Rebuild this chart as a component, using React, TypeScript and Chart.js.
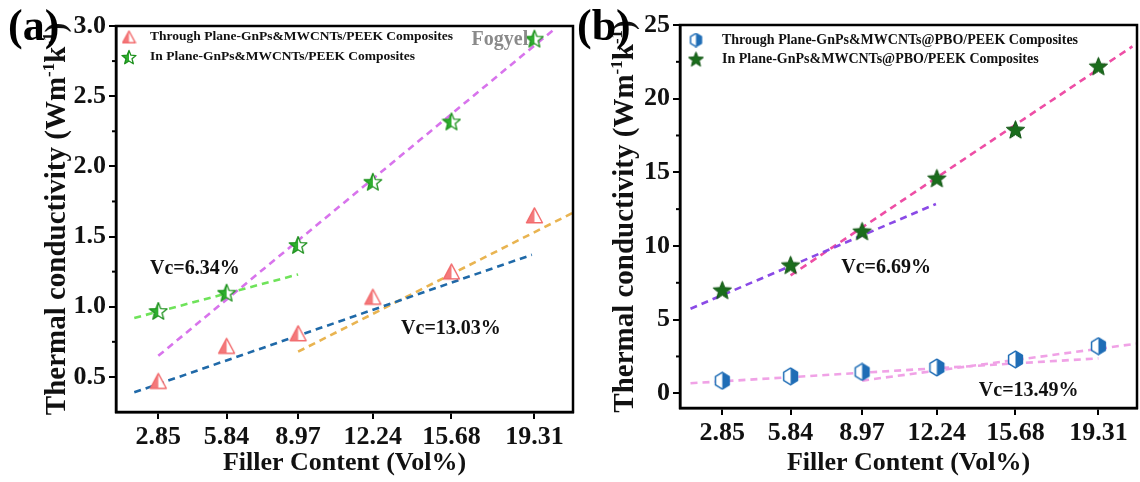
import React, { useEffect, useRef } from 'react';
import { Chart, registerables } from 'chart.js';
Chart.register(...registerables);

// ---------- shared data ----------
const fillerContent = [2.85, 5.84, 8.97, 12.24, 15.68, 19.31];
const xTickLabels = ['2.85', '5.84', '8.97', '12.24', '15.68', '19.31'];

// ---------- panel (a) data ----------
const throughPlaneA = [0.47, 0.72, 0.81, 1.07, 1.25, 1.65];
const inPlaneA = [0.97, 1.1, 1.44, 1.89, 2.32, 2.91];
const yTicksA = [0.5, 1.0, 1.5, 2.0, 2.5, 3.0];
const yMinorA = [0.75, 1.25, 1.75, 2.25, 2.75];
const fitInPlaneLowA = [[1.8, 0.92], [8.97, 1.23]];
const fitInPlaneHighA = [[2.85, 0.65], [20.2, 2.98]];
const fitThroughLowA = [[1.8, 0.39], [19.2, 1.37]];
const fitThroughHighA = [[8.97, 0.68], [21, 1.67]];

// ---------- panel (b) data ----------
const throughPlaneB = [0.85, 1.15, 1.45, 1.75, 2.3, 3.2];
const inPlaneB = [7.0, 8.7, 11.0, 14.6, 17.9, 22.2];
const yTicksB = [0, 5, 10, 15, 20, 25];
const yMinorB = [2.5, 7.5, 12.5, 17.5, 22.5];
const fitInPlaneLowB = [[1.46, 5.74], [12.2, 12.85]];
const fitInPlaneHighB = [[5.84, 8.0], [20.8, 23.55]];
const fitThroughLowB = [[1.46, 0.68], [19.31, 2.37]];
const fitThroughHighB = [[8.97, 0.86], [21, 3.37]];

const FONT = "'Liberation Serif', 'Times New Roman', serif";

// ---------- marker images ----------
function markerCanvas(size: number, draw: (ctx: CanvasRenderingContext2D, s: number) => void) {
  const c = document.createElement('canvas');
  c.width = size;
  c.height = size;
  const ctx = c.getContext('2d') as CanvasRenderingContext2D;
  draw(ctx, size);
  return c;
}
function starPath(ctx: CanvasRenderingContext2D, cx: number, cy: number, R: number, r: number) {
  ctx.beginPath();
  for (let i = 0; i < 10; i++) {
    const rad = i % 2 === 0 ? R : r;
    const a = -Math.PI / 2 + (i * Math.PI) / 5;
    const px = cx + rad * Math.cos(a);
    const py = cy + rad * Math.sin(a);
    if (i === 0) ctx.moveTo(px, py);
    else ctx.lineTo(px, py);
  }
  ctx.closePath();
}
function halfFilled(
  ctx: CanvasRenderingContext2D,
  s: number,
  path: () => void,
  fill: string,
  stroke: string,
  leftHalf: boolean,
  lw: number
) {
  path();
  ctx.fillStyle = '#fff';
  ctx.fill();
  ctx.save();
  path();
  ctx.clip();
  ctx.fillStyle = fill;
  if (leftHalf) ctx.fillRect(0, 0, s / 2, s);
  else ctx.fillRect(s / 2, 0, s / 2, s);
  ctx.restore();
  path();
  ctx.strokeStyle = stroke;
  ctx.lineWidth = lw;
  ctx.lineJoin = 'round';
  ctx.stroke();
}
function makeTriangle(size: number) {
  return markerCanvas(size, (ctx, s) => {
    const path = () => {
      ctx.beginPath();
      ctx.moveTo(s / 2, s * 0.1);
      ctx.lineTo(s * 0.08, s * 0.88);
      ctx.lineTo(s * 0.92, s * 0.88);
      ctx.closePath();
    };
    halfFilled(ctx, s, path, '#f4797b', '#f26a6c', true, 1.4);
  });
}
function makeStarA(size: number) {
  return markerCanvas(size, (ctx, s) => {
    const path = () => starPath(ctx, s / 2, s / 2 + 0.8, s * 0.46, s * 0.2);
    halfFilled(ctx, s, path, '#2fae2f', '#1d911d', true, 1.3);
  });
}
function makeStarB(size: number) {
  return markerCanvas(size, (ctx, s) => {
    starPath(ctx, s / 2, s / 2 + 0.8, s * 0.46, s * 0.2);
    ctx.fillStyle = '#1a6d1c';
    ctx.fill();
    ctx.strokeStyle = '#0f5311';
    ctx.lineWidth = 1;
    ctx.stroke();
  });
}
function makeHexagon(size: number) {
  return markerCanvas(size, (ctx, s) => {
    const path = () => {
      ctx.beginPath();
      for (let i = 0; i < 6; i++) {
        const a = -Math.PI / 2 + (i * Math.PI) / 3;
        const px = s / 2 + s * 0.42 * Math.cos(a);
        const py = s / 2 + s * 0.44 * Math.sin(a);
        if (i === 0) ctx.moveTo(px, py);
        else ctx.lineTo(px, py);
      }
      ctx.closePath();
    };
    halfFilled(ctx, s, path, '#1f6db6', '#1f6db6', false, 1.5);
  });
}

type Ann = { text: string; x: number; y: number; size: number; color: string };

interface PanelSpec {
  panelLabel: string;
  panelLabelX: number;
  yMin: number;
  yMax: number;
  yTicks: number[];
  yMinor: number[];
  yFmt: (v: number) => string;
  padTop: number;
  padRight: number;
  yWidth: number;
  xHeight: number;
  yTitleX: number;
  series: { label: string; values: number[]; marker: HTMLCanvasElement; legendMarker: HTMLCanvasElement }[];
  fits: { pts: number[][]; color: string }[];
  anns: Ann[];
  legendX: number;
  legendY: number[];
  legendTextX: number;
  legendSize: number;
}

// y-axis title with true superscripts
function drawYTitle(ctx: CanvasRenderingContext2D, cx: number, cy: number) {
  const main = `bold 29px ${FONT}`;
  const sup = `bold 17px ${FONT}`;
  const parts = [
    { t: 'Thermal conductivity (Wm', f: main, dy: 0 },
    { t: '-1', f: sup, dy: -11 },
    { t: 'k', f: main, dy: 0 },
    { t: '-1', f: sup, dy: -11 },
    { t: ')', f: main, dy: 0 },
  ];
  let total = 0;
  const widths = parts.map((p) => {
    ctx.font = p.f;
    const w = ctx.measureText(p.t).width;
    total += w;
    return w;
  });
  ctx.save();
  ctx.translate(cx, cy);
  ctx.rotate(-Math.PI / 2);
  ctx.fillStyle = '#111';
  ctx.textAlign = 'left';
  ctx.textBaseline = 'alphabetic';
  let x = -total / 2;
  parts.forEach((p, i) => {
    ctx.font = p.f;
    ctx.fillText(p.t, x, 10 + p.dy);
    x += widths[i];
  });
  ctx.restore();
}

function buildConfig(spec: PanelSpec): any {
  const tickFont = { family: FONT, size: 26, weight: 'bold' as const };
  const titleFont = { family: FONT, size: 26, weight: 'bold' as const };
  const grid = {
    drawOnChartArea: false,
    drawTicks: true,
    tickLength: 7,
    color: '#000',
    lineWidth: 2,
  };
  const border = { display: true, color: '#000', width: 2.5 };

  const deco = {
    id: 'deco',
    afterDraw(chart: any) {
      const { ctx, chartArea: ca, scales } = chart;
      ctx.save();
      // frame
      ctx.strokeStyle = '#000';
      ctx.lineWidth = 2.5;
      ctx.strokeRect(ca.left, ca.top, ca.right - ca.left, ca.bottom - ca.top);
      // minor ticks
      ctx.lineWidth = 2;
      spec.yMinor.forEach((v) => {
        const py = scales.y.getPixelForValue(v);
        ctx.beginPath();
        ctx.moveTo(ca.left - 4, py);
        ctx.lineTo(ca.left, py);
        ctx.stroke();
      });
      // legend
      spec.series.forEach((s, i) => {
        const m = s.legendMarker;
        const ly = spec.legendY[i];
        ctx.drawImage(m, spec.legendX - m.width / 2, ly - m.height / 2);
        ctx.fillStyle = '#111';
        ctx.font = `bold ${spec.legendSize}px ${FONT}`;
        ctx.textAlign = 'left';
        ctx.textBaseline = 'middle';
        ctx.fillText(s.label, spec.legendTextX, ly);
      });
      // annotations
      spec.anns.forEach((a) => {
        ctx.fillStyle = a.color;
        ctx.font = `bold ${a.size}px ${FONT}`;
        ctx.textAlign = 'center';
        ctx.textBaseline = 'middle';
        ctx.fillText(a.text, scales.x.getPixelForValue(a.x), scales.y.getPixelForValue(a.y));
      });
      // y title
      drawYTitle(ctx, spec.yTitleX, (ca.top + ca.bottom) / 2);
      // panel label
      ctx.fillStyle = '#000';
      ctx.font = `bold 44px ${FONT}`;
      ctx.textAlign = 'left';
      ctx.textBaseline = 'alphabetic';
      ctx.fillText(spec.panelLabel, spec.panelLabelX, 40);
      ctx.restore();
    },
  };

  return {
    type: 'scatter',
    data: {
      datasets: [
        ...spec.series.map((s) => ({
          label: s.label,
          data: fillerContent.map((x, i) => ({ x, y: s.values[i] })),
          pointStyle: s.marker,
          pointRadius: 9,
          pointHoverRadius: 9,
          showLine: false,
          order: 0,
        })),
        ...spec.fits.map((f) => ({
          label: '',
          data: f.pts.map(([x, y]) => ({ x, y })),
          showLine: true,
          borderColor: f.color,
          borderWidth: 2.6,
          borderDash: [7, 5],
          pointRadius: 0,
          fill: false,
          order: 1,
        })),
      ],
    },
    options: {
      responsive: false,
      animation: false,
      events: [],
      layout: {
        autoPadding: false,
        padding: { top: spec.padTop, right: spec.padRight, left: 0, bottom: 0 },
      },
      plugins: { legend: { display: false }, tooltip: { enabled: false } },
      scales: {
        x: {
          type: 'linear',
          min: 1,
          max: 21,
          afterBuildTicks: (s: any) => {
            s.ticks = fillerContent.map((v) => ({ value: v }));
          },
          afterFit: (s: any) => {
            s.height = spec.xHeight;
            s.paddingLeft = 0;
            s.paddingRight = 0;
          },
          ticks: {
            callback: (_v: any, i: number) => xTickLabels[i],
            font: tickFont,
            color: '#111',
            padding: 3,
            autoSkip: false,
            maxRotation: 0,
          },
          grid,
          border,
          title: {
            display: true,
            text: 'Filler Content (Vol%)',
            font: titleFont,
            color: '#111',
            padding: { top: 0, bottom: 3 },
          },
        },
        y: {
          type: 'linear',
          min: spec.yMin,
          max: spec.yMax,
          afterBuildTicks: (s: any) => {
            s.ticks = spec.yTicks.map((v) => ({ value: v }));
          },
          afterFit: (s: any) => {
            s.width = spec.yWidth;
            s.paddingTop = 0;
            s.paddingBottom = 0;
          },
          ticks: {
            callback: (v: any) => spec.yFmt(Number(v)),
            font: tickFont,
            color: '#111',
            padding: 3,
          },
          grid,
          border,
          title: { display: false },
        },
      },
    },
    plugins: [deco],
  };
}

export default function App() {
  const refA = useRef<HTMLCanvasElement>(null);
  const refB = useRef<HTMLCanvasElement>(null);

  useEffect(() => {
    const specA: PanelSpec = {
      panelLabel: '(a)',
      panelLabelX: 8,
      yMin: 0.25,
      yMax: 3.0,
      yTicks: yTicksA,
      yMinor: yMinorA,
      yFmt: (v) => v.toFixed(1),
      padTop: 26,
      padRight: 2,
      yWidth: 116,
      xHeight: 70,
      yTitleX: 55,
      series: [
        {
          label: 'Through Plane-GnPs&MWCNTs/PEEK Composites',
          values: throughPlaneA,
          marker: makeTriangle(19),
          legendMarker: makeTriangle(15),
        },
        {
          label: 'In Plane-GnPs&MWCNTs/PEEK Composites',
          values: inPlaneA,
          marker: makeStarA(20),
          legendMarker: makeStarA(16),
        },
      ],
      fits: [
        { pts: fitInPlaneLowA, color: '#6fe35a' },
        { pts: fitInPlaneHighA, color: '#d874ec' },
        { pts: fitThroughLowA, color: '#1f69a8' },
        { pts: fitThroughHighA, color: '#e9b451' },
      ],
      anns: [
        { text: 'Vc=6.34%', x: 4.45, y: 1.27, size: 20, color: '#111' },
        { text: 'Vc=13.03%', x: 15.66, y: 0.84, size: 20, color: '#111' },
        { text: 'Fogyel', x: 17.8, y: 2.9, size: 20, color: '#8a8a8a' },
      ],
      legendX: 129,
      legendY: [37, 57],
      legendTextX: 150,
      legendSize: 13.5,
    };
    const specB: PanelSpec = {
      panelLabel: '(b)',
      panelLabelX: 2,
      yMin: -1,
      yMax: 25,
      yTicks: yTicksB,
      yMinor: yMinorB,
      yFmt: (v) => String(v),
      padTop: 25,
      padRight: 3,
      yWidth: 105,
      xHeight: 74,
      yTitleX: 48,
      series: [
        {
          label: 'Through Plane-GnPs&MWCNTs@PBO/PEEK Composites',
          values: throughPlaneB,
          marker: makeHexagon(19),
          legendMarker: makeHexagon(15),
        },
        {
          label: 'In Plane-GnPs&MWCNTs@PBO/PEEK Composites',
          values: inPlaneB,
          marker: makeStarB(21),
          legendMarker: makeStarB(17),
        },
      ],
      fits: [
        { pts: fitInPlaneLowB, color: '#8a4ae6' },
        { pts: fitInPlaneHighB, color: '#ee4ea5' },
        { pts: fitThroughLowB, color: '#f0a2e6' },
        { pts: fitThroughHighB, color: '#f0a2e6' },
      ],
      anns: [
        { text: 'Vc=6.69%', x: 10.02, y: 8.53, size: 20, color: '#111' },
        { text: 'Vc=13.49%', x: 16.26, y: 0.18, size: 20, color: '#111' },
      ],
      legendX: 121,
      legendY: [40, 59],
      legendTextX: 147,
      legendSize: 14,
    };
    const a = new Chart(refA.current as HTMLCanvasElement, buildConfig(specA));
    const b = new Chart(refB.current as HTMLCanvasElement, buildConfig(specB));
    return () => {
      a.destroy();
      b.destroy();
    };
  }, []);

  return (
    <div style={{ position: 'absolute', left: 0, top: 0, width: 1140, height: 482, background: '#fff' }}>
      <canvas ref={refA} width={575} height={482} style={{ position: 'absolute', left: 0, top: 0 }} />
      <canvas ref={refB} width={565} height={482} style={{ position: 'absolute', left: 575, top: 0 }} />
    </div>
  );
}
